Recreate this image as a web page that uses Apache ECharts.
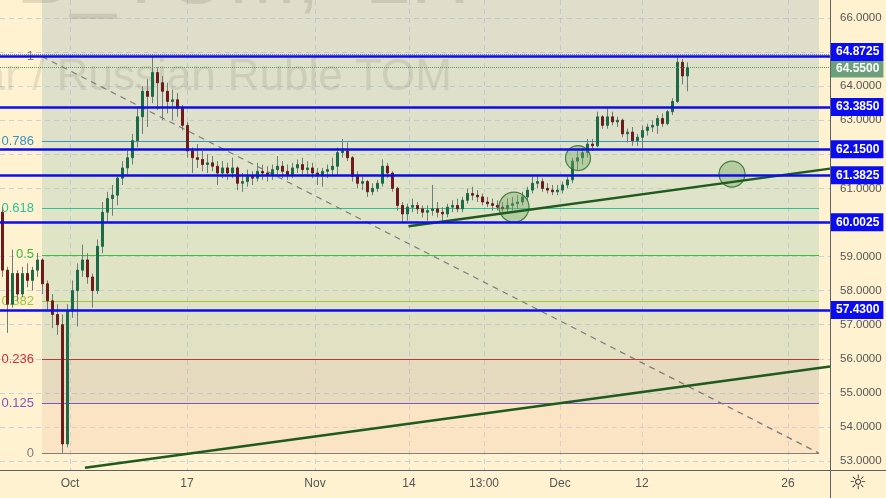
<!DOCTYPE html>
<html><head><meta charset="utf-8">
<script src="https://cdn.jsdelivr.net/npm/echarts@6/dist/echarts.min.js"></script>
<style>html,body{margin:0;padding:0;background:#fef2d0}#c{width:886px;height:498px}</style>
</head><body><div id="c"></div>
<script>
// ===== DATA =====
// hourly-ish bars, one per slot: [open, high, low, close]
const barsOHLC = [
[60.30,60.45,58.40,58.60],[58.60,58.70,56.76,57.60],[57.60,59.20,57.50,58.50],[58.50,58.60,57.70,57.90],
[57.90,58.70,57.80,58.50],[58.50,58.80,58.10,58.30],[58.30,58.70,58.00,58.60],[58.60,59.10,58.40,58.90],
[58.90,58.95,57.90,58.20],[58.20,58.30,57.40,57.70],[57.70,57.90,56.90,57.30],[57.30,57.60,56.70,57.00],
[57.00,57.30,53.24,53.50],[53.50,57.60,53.40,57.40],[57.40,58.30,57.20,58.00],[58.00,58.80,56.95,58.60],
[58.60,59.35,58.40,58.90],[58.90,59.10,58.20,58.40],[58.40,58.50,57.50,58.00],[58.00,59.50,57.90,59.30],
[59.30,60.60,59.10,60.30],[60.30,60.90,60.00,60.70],[60.70,61.10,60.20,60.80],[60.80,61.40,60.50,61.30],
[61.30,61.80,61.10,61.60],[61.60,62.10,61.40,61.90],[61.90,62.60,61.70,62.40],[62.40,63.40,62.20,63.10],
[63.10,64.00,62.60,63.85],[63.85,64.20,62.80,63.70],[63.70,64.86,63.50,64.40],[64.40,64.55,63.30,64.10],
[64.10,64.30,63.00,63.85],[63.85,64.10,63.20,63.55],[63.55,63.90,63.00,63.60],[63.60,63.80,63.10,63.35],
[63.35,63.45,62.70,62.85],[62.85,62.95,61.90,62.10],[62.10,62.20,61.45,61.90],[61.90,62.30,61.60,61.85],
[61.85,62.10,61.50,61.70],[61.70,62.00,61.45,61.75],[61.75,61.95,61.50,61.65],[61.65,61.80,61.10,61.45],
[61.45,61.80,61.30,61.60],[61.60,61.75,61.25,61.45],[61.45,61.90,61.30,61.60],[61.60,61.65,60.95,61.15],
[61.15,61.45,60.90,61.20],[61.20,61.55,61.05,61.35],[61.35,61.50,61.10,61.30],[61.30,61.75,61.20,61.50],
[61.50,61.70,61.25,61.45],[61.45,61.65,61.20,61.40],[61.40,61.70,61.25,61.55],[61.55,61.95,61.40,61.65],
[61.65,61.80,61.30,61.50],[61.50,61.70,61.25,61.40],[61.40,61.75,61.30,61.60],[61.60,61.85,61.45,61.70],
[61.70,61.90,61.40,61.55],[61.55,61.80,61.35,61.60],[61.60,61.75,61.30,61.45],[61.45,61.60,61.10,61.40],
[61.40,61.60,61.05,61.50],[61.50,61.70,61.30,61.55],[61.55,61.90,61.40,61.65],[61.65,62.20,61.40,62.05],
[62.05,62.45,61.90,62.10],[62.10,62.35,61.80,61.90],[61.90,61.95,61.20,61.35],[61.35,61.50,61.00,61.15],
[61.15,61.35,60.95,61.20],[61.20,61.25,60.75,60.90],[60.90,61.15,60.80,61.00],[61.00,61.25,60.90,61.15],
[61.15,61.85,61.05,61.65],[61.65,61.75,61.30,61.45],[61.45,61.50,60.90,61.00],[61.00,61.05,60.35,60.50],
[60.50,60.60,60.00,60.25],[60.25,60.55,60.05,60.45],[60.45,60.70,60.30,60.50],[60.50,60.60,60.25,60.40],
[60.40,60.50,60.15,60.30],[60.30,60.50,60.05,60.35],[60.35,61.10,60.20,60.40],[60.40,60.60,60.15,60.30],
[60.30,60.45,60.00,60.25],[60.25,60.55,60.15,60.45],[60.45,60.65,60.30,60.50],[60.50,60.70,60.30,60.40],
[60.40,60.75,60.30,60.65],[60.65,61.00,60.55,60.85],[60.85,61.05,60.65,60.80],[60.80,60.95,60.60,60.75],
[60.75,60.85,60.50,60.60],[60.60,60.75,60.45,60.55],[60.55,60.70,60.35,60.50],[60.50,60.65,60.35,60.45],
[60.45,60.60,60.30,60.40],[60.40,60.70,60.30,60.50],[60.50,60.75,60.35,60.55],[60.55,60.80,60.40,60.60],
[60.60,60.90,60.50,60.75],[60.75,61.05,60.65,60.95],[60.95,61.35,60.85,61.15],[61.15,61.40,61.00,61.20],
[61.20,61.30,60.90,61.00],[61.00,61.15,60.85,60.95],[60.95,61.10,60.80,60.90],[60.90,61.10,60.80,60.95],
[60.95,61.20,60.85,61.10],[61.10,61.35,61.00,61.25],[61.25,61.90,61.15,61.80],[61.80,62.10,61.55,61.90],
[61.90,62.20,61.70,62.05],[62.05,62.45,61.90,62.30],[62.30,62.45,62.10,62.25],[62.25,63.25,62.20,63.10],
[63.10,63.15,62.75,62.85],[62.85,63.35,62.75,63.10],[63.10,63.25,62.85,62.95],[62.95,63.10,62.80,63.00],
[63.00,63.05,62.50,62.60],[62.60,62.75,62.35,62.65],[62.65,62.80,62.25,62.40],[62.40,62.60,62.25,62.50],
[62.50,62.85,62.18,62.70],[62.70,62.90,62.55,62.80],[62.80,63.00,62.65,62.85],[62.85,63.15,62.60,63.05],
[63.05,63.20,62.80,62.90],[62.90,63.30,62.85,63.25],[63.25,63.65,63.15,63.55],[63.55,64.87,63.50,64.70],
[64.70,64.80,64.05,64.30],[64.30,64.70,63.85,64.55]
];
const dateTickLabels = ['Oct','17','Nov','14','13:00','Dec','12','26'];
const dateTickSlots  = [13.5, 36.9, 62.5, 81.3, 96.3, 111.5, 127.9, 157.1];
const priceTicks = [53,54,55,56,57,58,59,60,61,62,63,64,65,66];
const levelPrices = [64.8725, 63.385, 62.15, 61.3825, 60.0025, 57.43];
const lastPrice = 64.55;
const highLinePrice = 64.95;
const fibRatios = [0, 0.125, 0.236, 0.382, 0.5, 0.618, 0.786, 1];
const fibLabels = ['0', '0.125', '0.236', '0.382', '0.5', '0.618', '0.786', '1'];
const fibFrom = [7.9, 64.87];   // level 1 anchor [slot, price]
const fibTo = [163.3, 53.23];   // level 0 anchor
const trendLineLower = [[16.5, 52.80], [165.5, 55.77]];
const trendLineUpper = [[81.2, 59.89], [165.5, 61.58]];
const circlePoints = [[102.3, 60.45], [115.1, 61.89], [145.9, 61.42]];

// ===== STYLE =====
const X_MIN = -0.5, X_MAX = 165.5, Y_MIN = 52.736, Y_MAX = 66.528;
const fibColors = ['#808080', '#7e57c2', '#d03030', '#9cc83a', '#3cbf35', '#26c49a', '#3a92c2', '#808080'];
const bandColors = ['rgba(248,207,176,0.4)','rgba(195,185,166,0.4)','rgba(183,202,178,0.4)','rgba(180,207,181,0.4)',
  'rgba(178,207,183,0.4)','rgba(178,205,188,0.4)','rgba(178,197,193,0.4)','rgba(175,192,193,0.4)'];
const circleSizes = [30, 25, 26];
const FONT = '"Liberation Sans", Arial, sans-serif';

const fibPrice = r => fibTo[1] + r * (fibFrom[1] - fibTo[1]);
const fibX0 = fibFrom[0], fibX1 = fibTo[0];

const bandData = fibRatios.map((r, i) => {
  const lo = fibPrice(r);
  const hi = i < fibRatios.length - 1 ? fibPrice(fibRatios[i + 1]) : Y_MAX;
  return [{ coord: [fibX0, lo], itemStyle: { color: bandColors[i] } }, { coord: [fibX1, hi] }];
});
const fibLineData = fibRatios.map((r, i) => [
  { coord: [fibX0, fibPrice(r)], lineStyle: { color: fibColors[i], width: 1.2, type: 'solid' },
    label: { show: true, position: 'start', formatter: fibLabels[i], color: fibColors[i], fontSize: 13, fontFamily: FONT, distance: 8 } },
  { coord: [fibX1, fibPrice(r)] }
]);

const wickData = barsOHLC.map((b, i) => [i, b[0], b[3], b[2], b[1]]);
const bodyData = barsOHLC.map((b, i) => [i, b[0], b[3], Math.min(b[0], b[3]), Math.max(b[0], b[3])]);

const boxLabel = (bg, off) => ({
  show: true, position: 'end', distance: 1, formatter: p => Number(p.value).toFixed(4), color: '#fff', fontWeight: 'bold',
  fontSize: 12, lineHeight: 12, fontFamily: FONT, backgroundColor: bg, padding: [3, 4, 3, 5], offset: [0, off]
});
const levelLineData = levelPrices.map((p, i) => ({
  yAxis: p,
  lineStyle: { color: '#0c0cf0', width: 2.5, type: 'solid' },
  label: boxLabel('#0c0cf0', i === 0 ? -4.5 : 0)
}));

const gridSplit = { show: true, lineStyle: { color: '#c8cfdd', width: 1, type: [5, 4] } };

const option = {
  animation: false,
  backgroundColor: '#fef2d0',
  grid: { left: 0, right: 56, top: 0, bottom: 28 },
  xAxis: {
    type: 'value', min: X_MIN, max: X_MAX,
    axisLine: { show: false },
    axisTick: { show: false, customValues: dateTickSlots },
    axisLabel: {
      customValues: dateTickSlots, color: '#555', fontSize: 12, fontFamily: FONT, margin: 8,
      formatter: v => { const k = dateTickSlots.findIndex(s => Math.abs(s - v) < 1e-6); return k >= 0 ? dateTickLabels[k] : ''; }
    },
    splitLine: gridSplit
  },
  yAxis: {
    type: 'value', position: 'right', min: Y_MIN, max: Y_MAX,
    axisLine: { show: false },
    axisTick: { show: false, customValues: priceTicks },
    axisLabel: { customValues: priceTicks, color: '#555', fontSize: 11.5, fontFamily: FONT, margin: 10, formatter: v => v.toFixed(4) },
    splitLine: gridSplit
  },
  graphic: [
    { type: 'text', x: 470, y: 21, z: 1, silent: true,
      style: { text: 'USDRUB_TOM,  1H', font: '82px ' + FONT, fill: 'rgba(120,115,95,0.2)', textAlign: 'right', textVerticalAlign: 'bottom' } },
    { type: 'text', x: 452, y: 100, z: 1, silent: true,
      style: { text: 'U.S. Dollar / Russian Ruble TOM', font: '44px ' + FONT, fill: 'rgba(120,115,95,0.17)', textAlign: 'right', textVerticalAlign: 'bottom' } },
    { type: 'line', z: 100, silent: true, shape: { x1: 0, y1: 470.5, x2: 886, y2: 470.5 }, style: { stroke: '#5d6068', lineWidth: 1 } },
    { type: 'line', z: 100, silent: true, shape: { x1: 830.5, y1: 0, x2: 830.5, y2: 498 }, style: { stroke: '#5d6068', lineWidth: 1 } },
    { type: 'text', x: 858, y: 484, z: 100, silent: true,
      style: { text: '\u263C', font: '20px "DejaVu Sans"', fill: '#333', textAlign: 'center', textVerticalAlign: 'middle' } }
  ],
  series: [
    { // fib diagonal + bands + levels
      type: 'line', data: [fibFrom, fibTo], z: 1, showSymbol: false, silent: true,
      lineStyle: { color: '#7a7a7a', width: 1.2, type: [6, 5] },
      markArea: { silent: true, z: 0, data: bandData },
      markLine: { silent: true, symbol: 'none', z: 1, precision: 4, data: fibLineData }
    },
    {
      type: 'candlestick', data: wickData, z: 2, barWidth: 1, silent: true,
      encode: { x: 0, y: [1, 2, 3, 4] },
      itemStyle: { color: '#6e7c7a', color0: '#6e7c7a', borderColor: '#6e7c7a', borderColor0: '#6e7c7a', borderWidth: 1 }
    },
    {
      type: 'candlestick', data: bodyData, z: 3, barWidth: 2, silent: true,
      encode: { x: 0, y: [1, 2, 3, 4] },
      itemStyle: { color: '#1d6a48', color0: '#6e1b1b', borderColor: '#1d6a48', borderColor0: '#6e1b1b', borderWidth: 1 }
    },
    {
      type: 'scatter', data: circlePoints, z: 4, silent: true,
      symbolSize: (v, p) => circleSizes[p.dataIndex],
      itemStyle: { color: 'rgba(115,170,100,0.5)', borderColor: '#2a662a', borderWidth: 1.2 }
    },
    {
      type: 'line', data: trendLineLower, z: 5, showSymbol: false, silent: true,
      lineStyle: { color: '#1f5a1f', width: 2.5 }
    },
    {
      type: 'line', data: trendLineUpper, z: 5, showSymbol: false, silent: true,
      lineStyle: { color: '#1f5a1f', width: 2.5 },
      markLine: {
        silent: true, symbol: 'none', z: 6, precision: 4,
        data: [
          { yAxis: highLinePrice, lineStyle: { color: '#7c7f9c', width: 1, type: 'dotted' }, label: { show: false } },
          { yAxis: lastPrice, lineStyle: { color: '#4f9a6a', width: 1, type: 'dotted' }, label: boxLabel('#6c9f7c', 1) }
        ].concat(levelLineData)
      }
    }
  ]
};
const chart = echarts.init(document.getElementById('c'), null, { renderer: 'canvas' });
chart.setOption(option);
</script></body></html>
